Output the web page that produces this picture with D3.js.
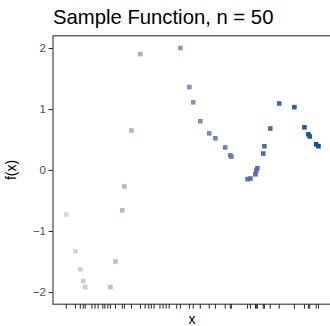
<!DOCTYPE html>
<meta charset="utf-8">
<style>
body{ margin:0; background:#fff; }
text{ font-family:"Liberation Sans", Arial, sans-serif; }
.axis text{ font-size:11.5px; fill:#4d4d4d; }
.axis line{ stroke:#333; }
</style>
<body>
<script src="https://d3js.org/d3.v7.min.js"></script>
<script>
// x values (all 50 draws) and the sampled function values
var xs = [0.475,0.80,0.975,1.08,1.15,1.39,1.50,1.61,1.78,1.85,1.96,2.05,2.23,2.475,2.55,2.80,3.12,3.29,3.42,3.51,
          3.61,3.82,3.93,4.04,4.15,4.42,4.55,4.87,5.01,5.26,5.58,5.80,6.15,6.33,6.37,6.95,7.05,7.23,7.26,7.30,
          7.51,7.55,7.76,8.08,8.62,8.98,9.12,9.17,9.40,9.48];
var fx = [-0.73,-1.33,-1.63,-1.82,-1.92,-2.35,-2.5,-2.55,-2.45,-2.4,-2.25,-1.92,-1.50,-0.66,-0.27,0.65,1.90,2.22,2.3,2.4,
          2.45,2.55,2.55,2.55,2.5,2.3,2.00,1.36,1.11,0.80,0.60,0.52,0.37,0.24,0.22,-0.15,-0.14,-0.07,-0.01,0.03,
          0.27,0.39,0.68,1.09,1.03,0.70,0.585,0.55,0.42,0.39];
var yTicks = [-2,-1,0,1,2];
var yLimits = [-2.2, 2.2];

var W = 330, H = 326;
var m = {left:53, top:35.8, right:-3, bottom:21.8};

var svg = d3.select("body").append("svg").attr("width",W).attr("height",H);

var x = d3.scaleLinear().domain([0,10]).range([m.left, W - m.right]);
var y = d3.scaleLinear().domain(yLimits).range([H - m.bottom, m.top]);
var col = d3.scaleLinear().domain(d3.extent(xs)).range(["#d9d9d9","#08519c"]).interpolate(d3.interpolateLab);

var data = xs.map((v,i)=>({x:v, f:fx[i]}));

// title
svg.append("text").attr("x",m.left).attr("y",24)
   .style("font-size","20.3px").style("fill","#000")
   .text("Sample Function, n = 50");

// points (out of y limits are dropped)
var s = 4.6;
svg.append("g").selectAll("rect")
   .data(data.filter(d=>d.f>=yLimits[0] && d.f<=yLimits[1]))
   .join("rect")
   .attr("x",d=>x(d.x)-s/2).attr("y",d=>y(d.f)-s/2)
   .attr("width",s).attr("height",s)
   .attr("fill",d=>col(d.x));

// panel outline
svg.append("rect").attr("x",m.left).attr("y",m.top)
   .attr("width",W - m.right - m.left).attr("height",y.range()[0]-m.top)
   .attr("fill","none").attr("stroke","#333").attr("stroke-width",1.1);

// y axis
var ya = svg.append("g").attr("class","axis")
   .attr("transform","translate("+m.left+",0)")
   .call(d3.axisLeft(y).tickValues(yTicks).tickFormat(d3.format("d")).tickSize(4.5).tickPadding(2.5));
ya.select(".domain").remove();

// rug along the bottom
svg.append("g").selectAll("line").data(xs).join("line")
   .attr("x1",d=>x(d)).attr("x2",d=>x(d))
   .attr("y1",y.range()[0]).attr("y2",y.range()[0]+4.5)
   .attr("stroke","#222").attr("stroke-width",1);

// axis titles
svg.append("text").attr("x",192).attr("y",324)
   .attr("text-anchor","middle").style("font-size","14px").text("x");
svg.append("text").attr("transform","translate(16,"+y(0)+") rotate(-90)")
   .attr("text-anchor","middle").style("font-size","14px").text("f(x)");
</script>
</body>
